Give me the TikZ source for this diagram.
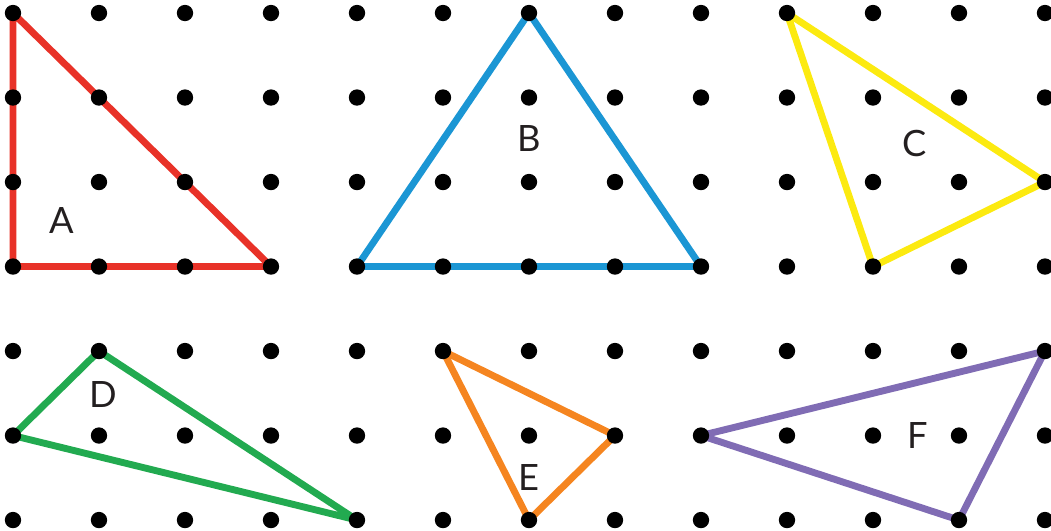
\documentclass[tikz,border=0pt]{standalone}
\usepackage{fontspec}
\setmainfont{Lato}
\usetikzlibrary{positioning}
\definecolor{trired}{RGB}{232,50,40}
\definecolor{triblue}{RGB}{27,150,212}
\definecolor{triyellow}{RGB}{252,234,16}
\definecolor{trigreen}{RGB}{34,170,80}
\definecolor{triorange}{RGB}{245,133,32}
\definecolor{tripurple}{RGB}{128,108,180}
\definecolor{labelgray}{RGB}{35,31,32}
\tikzset{
  % one peg of the geoboard
  peg/.style = {
    circle,
    fill = black,
    minimum size = 0.19cm,
    inner sep = 0
  },
  % triangle outline
  tri/.style = {
    draw = #1,
    line width = 0.08cm,
    line join = round,
    line cap = round
  },
  % letter inside a triangle
  tag/.style = {
    text = labelgray,
    font = \fontsize{12}{14}\selectfont,
    inner sep = 0
  }
}
\begin{document}
\begin{tikzpicture}[x=1cm,y=-0.9826cm]
    \useasboundingbox (-0.151,-0.154) rectangle (12.070,6.118);

    % pegs (placed first so the outlines can refer to them)
    \foreach \c in {0,...,12} {
      \foreach \r in {0,...,6} {
        \coordinate (p-\c-\r) at (\c,\r);
      }
    }

    % triangles
    \draw[tri=trired] (p-0-0) -- (p-0-3) -- (p-3-3) -- cycle;
    \draw[tri=triblue] (p-6-0) -- (p-4-3) -- (p-8-3) -- cycle;
    \draw[tri=triyellow] (p-9-0) -- (p-12-2) -- (p-10-3) -- cycle;
    \draw[tri=trigreen] (p-1-4) -- (p-0-5) -- (p-4-6) -- cycle;
    \draw[tri=triorange] (p-5-4) -- (p-7-5) -- (p-6-6) -- cycle;
    \draw[tri=tripurple] (p-12-4) -- (p-8-5) -- (p-11-6) -- cycle;

    % pegs on top of the outlines
    \foreach \c in {0,...,12} {
      \foreach \r in {0,...,6} {
        \node[peg] (dot-\c-\r) at (p-\c-\r) {};
      }
    }

    % labels
    \node[tag] (lab-a) at (0.57,2.45) {A};
    \node[tag] (lab-b) at (6.0,1.48) {B};
    \node[tag] (lab-c) at (10.48,1.54) {C};
    \node[tag] (lab-d) at (1.05,4.52) {D};
    \node[tag] (lab-e) at (6.0,5.50) {E};
    \node[tag] (lab-f) at (10.52,5.0) {F};
\end{tikzpicture}
\end{document}
